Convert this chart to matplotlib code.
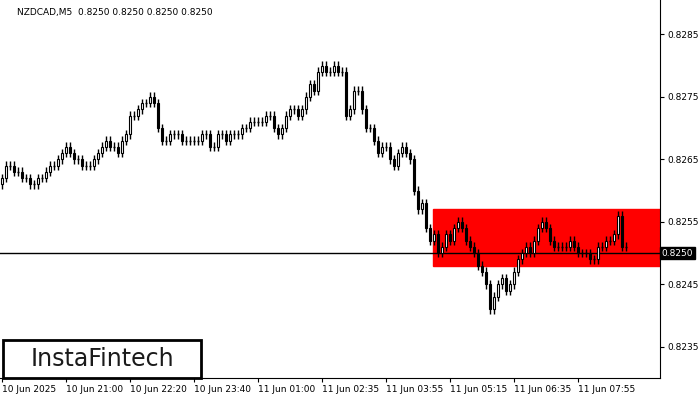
import matplotlib
matplotlib.use("Agg")
import matplotlib.pyplot as plt
from matplotlib.patches import Rectangle

# closes in pips above 0.8200, one per M5 candle
closes = [62, 64, 64, 63, 63, 62, 62, 61, 61, 62,
          62, 63, 64, 64, 65, 66, 67, 66, 65, 65,
          64, 64, 64, 65, 66, 67, 68, 67, 67, 66,
          68, 69, 72, 72, 73, 74, 74, 75, 74, 70,
          68, 68, 69, 69, 69, 68, 68, 68, 68, 68,
          69, 69, 67, 67, 69, 69, 68, 69, 69, 69,
          70, 70, 71, 71, 71, 71, 72, 72, 70, 69,
          70, 72, 73, 73, 72, 73, 75, 77, 76, 79,
          80, 79, 79, 80, 79, 79, 72, 73, 76, 76,
          73, 70, 70, 68, 66, 67, 67, 65, 64, 66,
          67, 66, 65, 60, 57, 58, 54, 52, 53, 50,
          51, 53, 52, 54, 55, 54, 52, 51, 50, 48,
          47, 45, 41, 43, 45, 46, 44, 45, 47, 49,
          50, 51, 50, 52, 54, 55, 54, 52, 51, 51,
          51, 51, 52, 51, 50, 50, 50, 49, 49, 51,
          51, 52, 52, 53, 56, 51, 51]
first_open = 61
tick_labels = ["10 Jun 2025", "10 Jun 21:00", "10 Jun 22:20", "10 Jun 23:40",
               "11 Jun 01:00", "11 Jun 02:35", "11 Jun 03:55", "11 Jun 05:15",
               "11 Jun 06:35", "11 Jun 07:55"]
y_ticks = [0.8235, 0.8245, 0.8255, 0.8265, 0.8275, 0.8285]
zone_top, zone_bottom, zone_start = 0.82570, 0.82479, 108
last_price = 0.8250

fig = plt.figure(figsize=(7, 4), dpi=100)
ax = fig.add_axes([0, 0.055, 660 / 700, 0.945])

ax.add_patch(Rectangle((zone_start - 0.3, zone_bottom), 200, zone_top - zone_bottom,
                       color='#ff0000', zorder=1))
ax.axhline(last_price, color='black', linewidth=1, zorder=2)

opens = [first_open] + closes[:-1]
for i, (o, c) in enumerate(zip(opens, closes)):
    o = 0.82 + o / 10000
    c = 0.82 + c / 10000
    lo, hi = min(o, c), max(o, c)
    ax.vlines(i, lo - 0.00007, hi + 0.00007, color='black', linewidth=1, zorder=3)
    if hi - lo < 0.00002:
        ax.hlines(c, i - 0.35, i + 0.35, color='black', linewidth=1, zorder=3)
    else:
        ax.add_patch(Rectangle((i - 0.35, lo), 0.7, hi - lo, facecolor='white' if c > o else 'black',
                               edgecolor='black', linewidth=0.8, zorder=4))

ax.set_xlim(-0.5, 164.5)
ax.set_ylim(0.82300, 0.82905)
ax.yaxis.tick_right()
ax.set_yticks(y_ticks)
ax.set_yticklabels([f"{v:.4f}" for v in y_ticks], fontsize=6.5)
ax.set_xticks(range(0, 160, 16))
ax.set_xticklabels(tick_labels, fontsize=6.5, ha='left')
ax.tick_params(axis='x', length=3, pad=2)
ax.tick_params(axis='y', length=3, pad=2)
for s in ['top', 'left']:
    ax.spines[s].set_visible(False)

ax.text(1.002, last_price, "0.8250", transform=ax.get_yaxis_transform(), fontsize=6.5,
        color='white', va='center', ha='left',
        bbox=dict(boxstyle='square,pad=0.2', facecolor='black', edgecolor='black'))
fig.text(17 / 700, 1 - 12 / 400, "NZDCAD,M5  0.8250 0.8250 0.8250 0.8250",
         fontsize=6.5, va='center', ha='left')

fig.patches.append(Rectangle((3 / 700, 22 / 400), 198 / 700, 38 / 400, transform=fig.transFigure,
                             facecolor='white', edgecolor='black', linewidth=2, zorder=5))
fig.text(102 / 700, 41 / 400, "InstaFintech", fontsize=17, va='center', ha='center',
         color='#1a1a1a', zorder=6)

fig.savefig("out.png", dpi=100)
